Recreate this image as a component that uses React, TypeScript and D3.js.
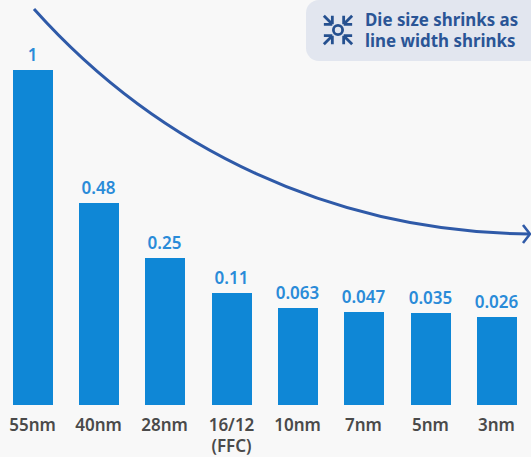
import React from "react";
import * as d3 from "d3";

const nodes = ["55nm", "40nm", "28nm", "16/12", "10nm", "7nm", "5nm", "3nm"];
const secondLine = ["", "", "", "(FFC)", "", "", "", ""];
const dieSize = [1, 0.48, 0.25, 0.11, 0.063, 0.047, 0.035, 0.026];
const valueLabels = ["1", "0.48", "0.25", "0.11", "0.063", "0.047", "0.035", "0.026"];

// Relative die size is drawn on a compressed axis, so the axis has explicit knots.
const axisKnots = [0, 0.026, 0.035, 0.047, 0.063, 0.11, 0.25, 0.48, 1];
const axisShare = [0, 0.2636, 0.2758, 0.2788, 0.2906, 0.3343, 0.4388, 0.603, 1];

const W = 531;
const H = 457;
const baseY = 405;
const topY = 70;
const blue = "#0f87d6";
const navy = "#2f5aa8";
const font = "'Noto Sans', sans-serif";

export default function App() {
  const x = d3.scaleBand<string>().domain(nodes).range([0, 529.7]).paddingInner(0.3967).paddingOuter(0.193);
  const share = d3.scaleLinear().domain(axisKnots).range(axisShare);
  const y = d3.scaleLinear().domain([0, 1]).range([baseY, topY]);

  const curve = d3.path();
  curve.moveTo(34, 9);
  curve.bezierCurveTo(160, 150, 335, 232, 529, 234);

  return (
    <svg
      width={W}
      height={H}
      viewBox={`0 0 ${W} ${H}`}
      style={{ position: "fixed", left: 0, top: 0, background: "#f8f8f8", fontFamily: font }}
    >
      {nodes.map((n, i) => {
        const top = Math.round(y(share(dieSize[i])));
        const left = Math.round(x(n)!);
        const width = Math.round(x.bandwidth());
        const cx = left + width / 2 - 0.5;
        return (
          <g key={n}>
            <rect x={left} y={top} width={width} height={baseY - top} fill={blue} />
            <text x={cx} y={top - 9} textAnchor="middle" fontSize={17} fontWeight={600} fill="#2a8bd8">
              {valueLabels[i]}
            </text>
            <text x={cx} y={431} textAnchor="middle" fontSize={17} fontWeight={600} fill="#4a4a4a">
              {n}
            </text>
            {secondLine[i] && (
              <text x={cx} y={452} textAnchor="middle" fontSize={17} fontWeight={600} fill="#4a4a4a">
                {secondLine[i]}
              </text>
            )}
          </g>
        );
      })}

      <path d={curve.toString()} fill="none" stroke={navy} strokeWidth={3} />
      <path d="M523,225 L530,234 L523,243" fill="none" stroke={navy} strokeWidth={2.6} />

      <rect x={306} y={0} width={240} height={61} rx={13} fill="#e2e6ef" />
      <g stroke="#25508f" strokeWidth={2.8} fill="none" transform="translate(338,30)">
        <circle r={4.6} />
        {[45, 135, 225, 315].map((a) => (
          <g key={a} transform={`rotate(${a})`}>
            <path d="M8,0 H20 M8,0 l6,-6 M8,0 l6,6" />
          </g>
        ))}
      </g>
      <text x={365} y={25.5} fontSize={16.9} fontWeight={700} fill="#2a5596">Die size shrinks as</text>
      <text x={365} y={47} fontSize={16.9} fontWeight={700} fill="#2a5596">line width shrinks</text>
    </svg>
  );
}
